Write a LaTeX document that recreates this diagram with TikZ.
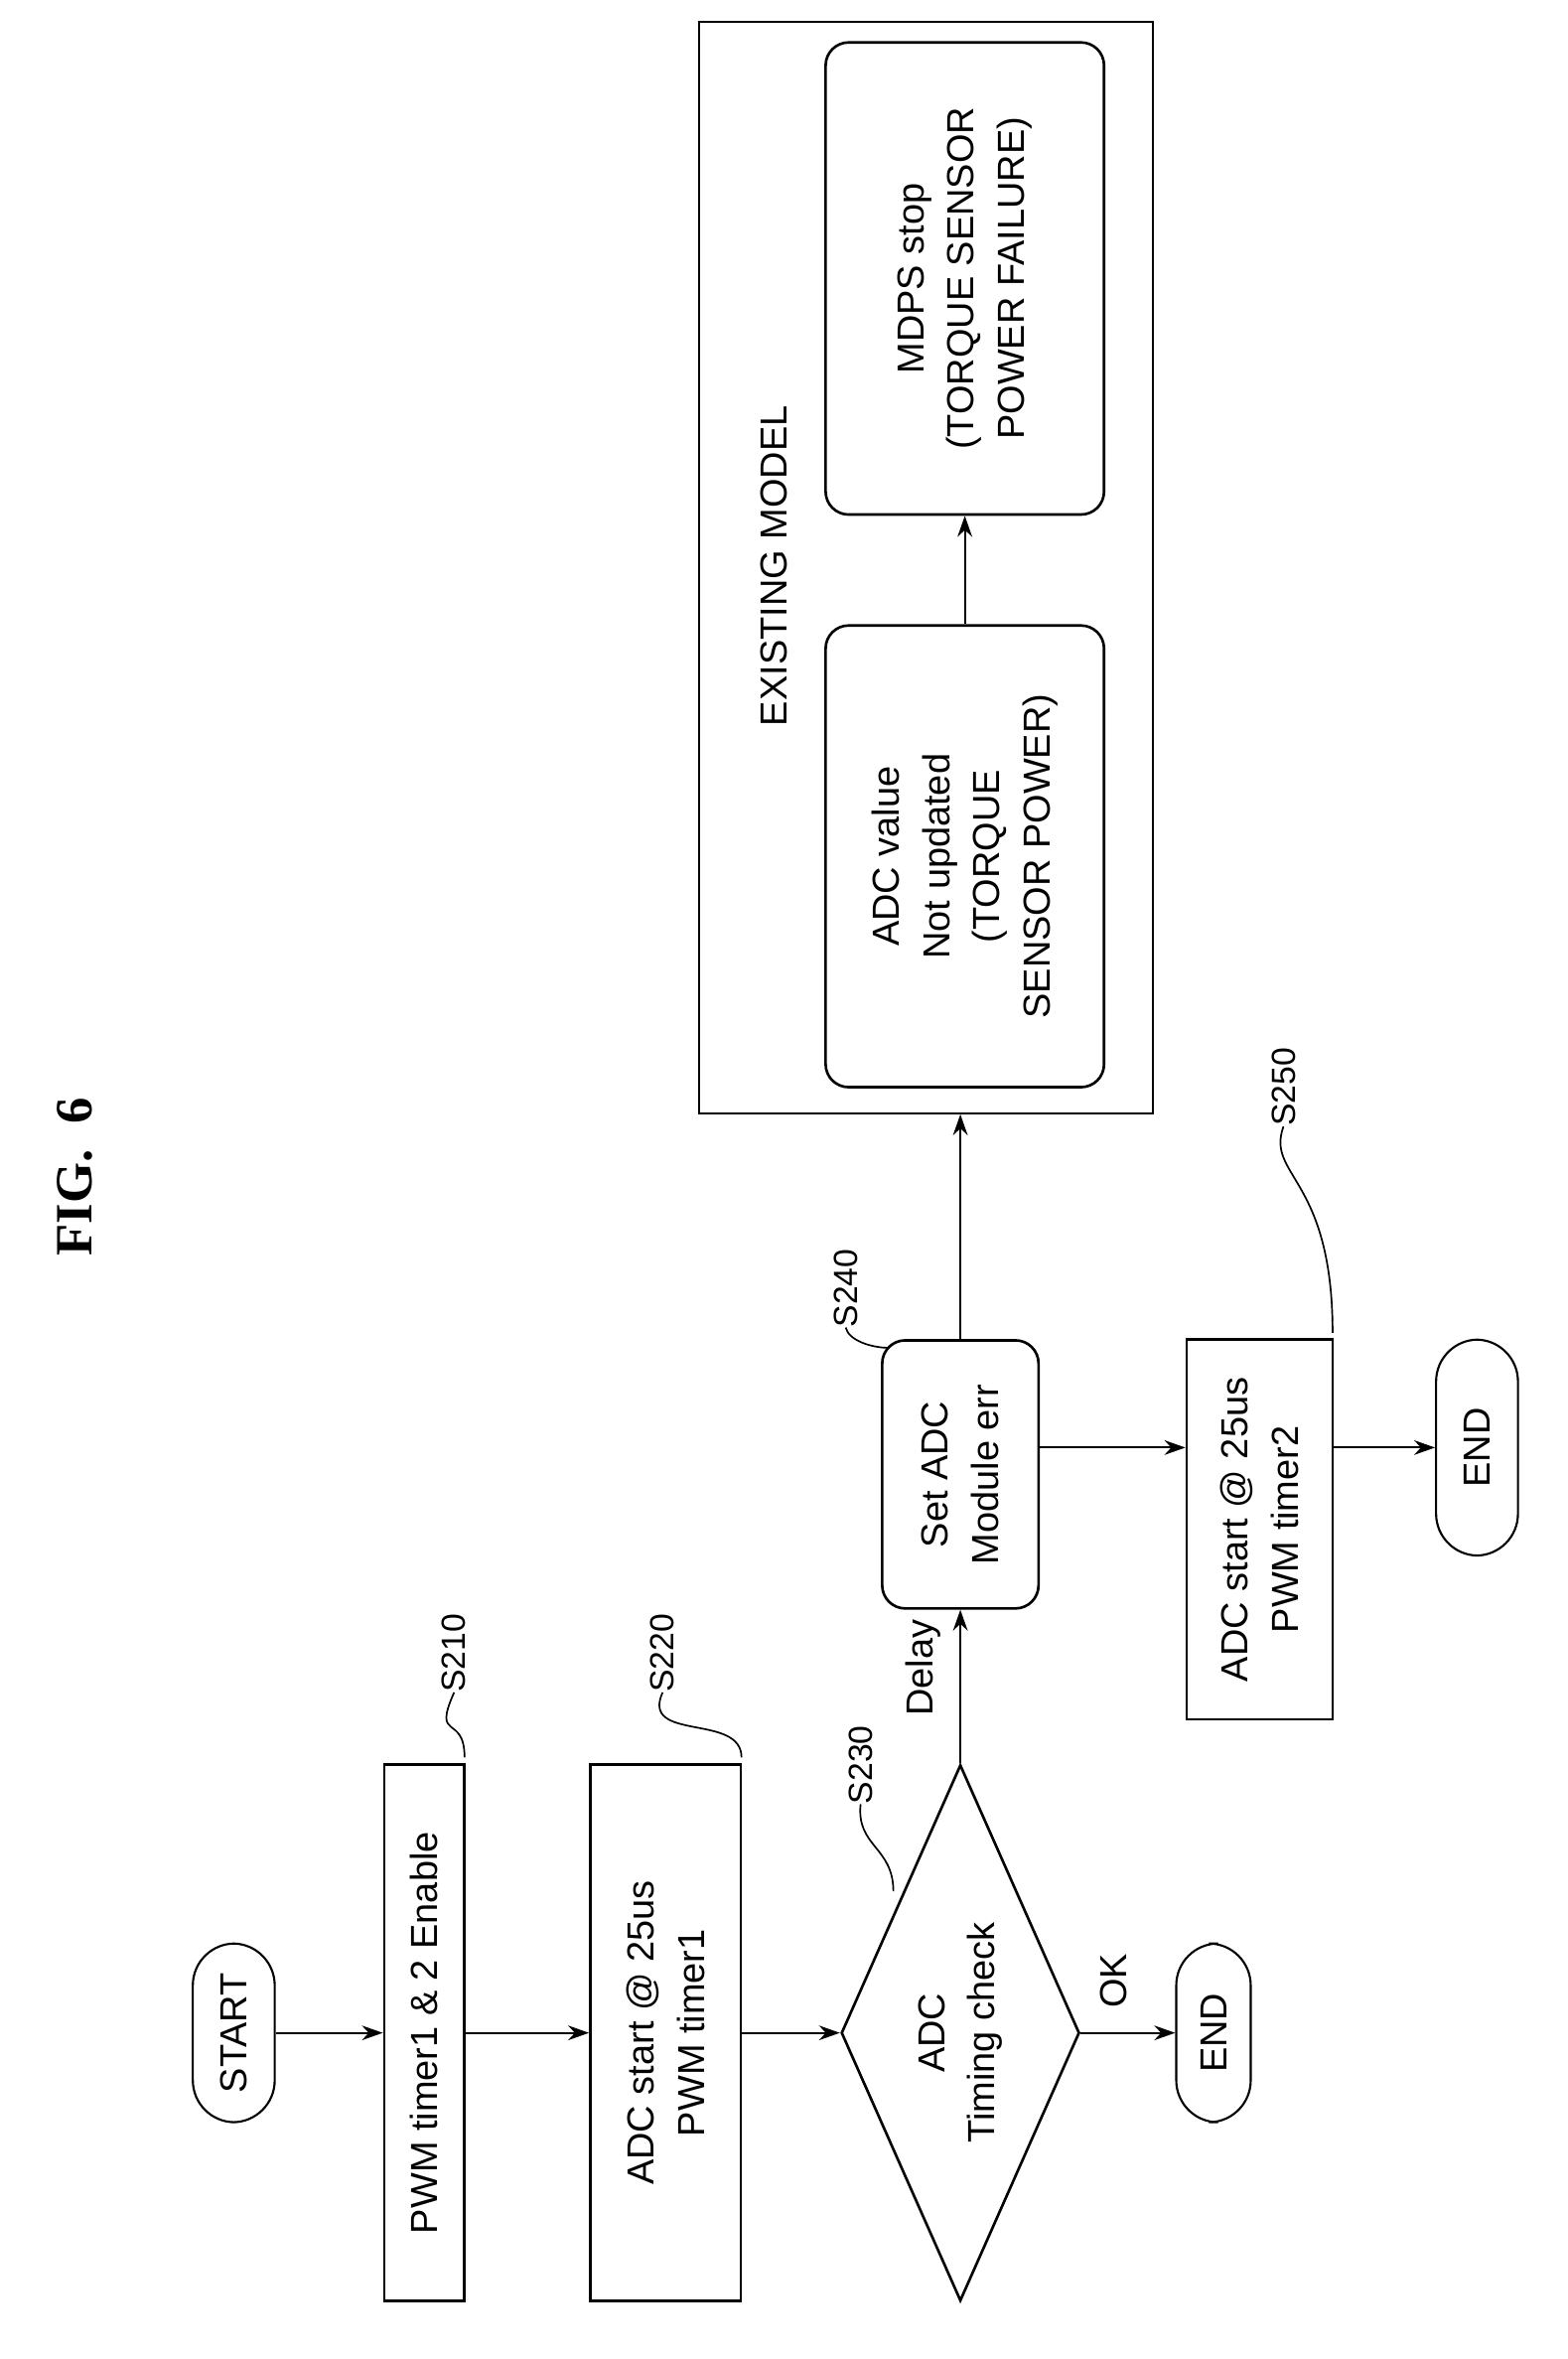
\documentclass[tikz,border=0pt]{standalone}
\usepackage{fontspec}
\setmainfont{Liberation Sans}
\newfontfamily\titlefont{Liberation Serif}
\usetikzlibrary{shapes.geometric,arrows.meta}
\begin{document}
\def\u{0.05cm}
\begin{tikzpicture}[x=0.05cm,y=-0.05cm,
  every node/.style={rotate=90,font=\fontsize{36}{48}\selectfont,align=center,inner sep=0pt},
  box/.style={draw,line width=2.5pt},
  rbox/.style={draw,line width=2.5pt,rounded corners=22pt},
  pill/.style={draw,line width=2pt,rounded corners=40pt},
  lab/.style={font=\fontsize{32}{38}\selectfont},
  arr/.style={line width=1.8pt,-{Stealth[length=20pt,width=14pt]}},
  lead/.style={line width=1.6pt}]
\useasboundingbox (0,0) rectangle (1053,1584);
\node[font=\titlefont\fontsize{50}{56}\selectfont\bfseries] (title) at (50,790) {FIG.\ \ 6};
\node[pill,minimum width=120*\u,minimum height=55*\u] (start) at (157,1365) {START};
\node[box,minimum width=360*\u,minimum height=54*\u] (s210) at (285,1365) {PWM timer1 \& 2 Enable};
\node[box,minimum width=360*\u,minimum height=101*\u] (s220) at (447,1365) {ADC start @ 25us\\PWM timer1};
\node[draw,line width=2.5pt,diamond,aspect=2.25,minimum width=360*\u,minimum height=160*\u] (s230) at (645,1365) {ADC\\Timing check};
\node[pill,minimum width=120*\u,minimum height=50*\u] (end1) at (815,1365) {END};
\node[rbox,minimum width=180*\u,minimum height=105*\u] (s240) at (645,990) {Set ADC\\Module err};
\node[box,minimum width=255*\u,minimum height=98*\u] (s250) at (846,1027) {ADC start @ 25us\\PWM timer2};
\node[pill,minimum width=145*\u,minimum height=55*\u] (end2) at (992,972) {END};
\node[draw,line width=2pt,minimum width=733*\u,minimum height=305*\u] (frame) at (622,381) {};
\node (em) at (520,380) {EXISTING MODEL};
\node[rbox,minimum width=310*\u,minimum height=187*\u] (adc) at (648,575) {ADC value\\Not updated\\(TORQUE\\SENSOR POWER)};
\node[rbox,minimum width=317*\u,minimum height=187*\u] (mdps) at (648,187) {MDPS stop\\(TORQUE SENSOR\\POWER FAILURE)};
\node (delay) at (620,1120) {Delay};
\node (ok) at (748,1330) {OK};
\node[lab] (l210) at (305,1110) {S210};
\node[lab] (l220) at (445,1110) {S220};
\node[lab] (l230) at (578,1185) {S230};
\node[lab] (l240) at (568,865) {S240};
\node[lab] (l250) at (862,730) {S250};
\coordinate (j) at (645,972);
\draw[arr] (start) -- (s210);
\draw[arr] (s210) -- (s220);
\draw[arr] (s220) -- (s230);
\draw[arr] (s230.south) -- (end1.north);
\draw[arr] (s230.east) -- (s240.west);
\draw[arr] (s240.east) -- (s240.east |- frame.west);
\draw[arr] (adc.east) -- (mdps.west);
\draw[arr] (j -| s240.south) -- (j -| s250.north);
\draw[arr] (j -| s250.south) -- (end2.north);
\draw[lead] (312,1180) .. controls (312,1150) and (290,1170) .. (l210.west);
\draw[lead] (498,1180) .. controls (498,1150) and (430,1170) .. (l220.west);
\draw[lead] (600,1270) .. controls (600,1240) and (575,1240) .. (l230.west);
\draw[lead] (597,905) .. controls (585,905) and (570,900) .. (l240.west);
\draw[lead] (895,895) .. controls (895,790) and (850,790) .. (l250.west);
\end{tikzpicture}
\end{document}
